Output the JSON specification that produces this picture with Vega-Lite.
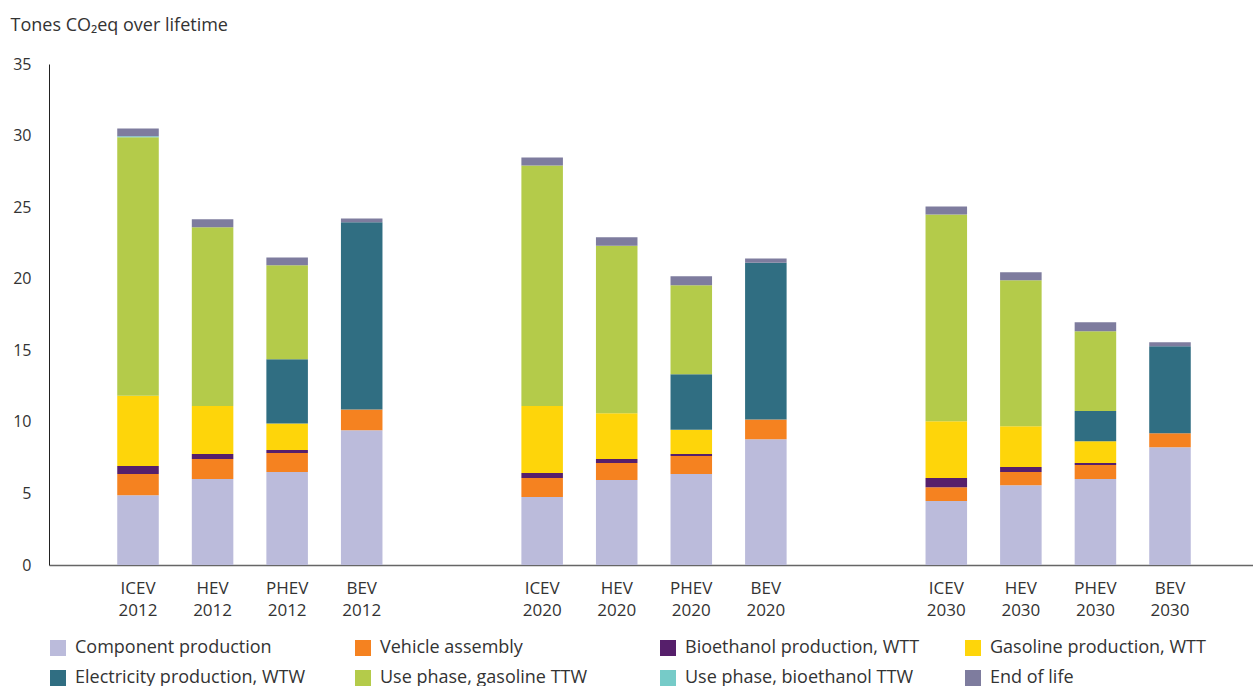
{
  "$schema": "https://vega.github.io/schema/vega-lite/v6.json",
  "width": 1210,
  "height": 501,
  "autosize": {"type": "none"},
  "padding": {"left": 49, "top": 64, "right": 0, "bottom": 121},
  "config": {
    "font": "Open Sans",
    "view": {"stroke": null},
    "axis": {"labelColor": "#333333", "titleColor": "#333333"}
  },
  "datasets": {
    "sources": [
      {"source": "Component production", "rank": 1},
      {"source": "Vehicle assembly", "rank": 2},
      {"source": "Bioethanol production, WTT", "rank": 3},
      {"source": "Gasoline production, WTT", "rank": 4},
      {"source": "Electricity production, WTW", "rank": 5},
      {"source": "Use phase, gasoline TTW", "rank": 6},
      {"source": "Use phase, bioethanol TTW", "rank": 7},
      {"source": "End of life", "rank": 8}
    ],
    "emissions": [
      {"year": "2012", "vehicle": "ICEV", "source": "Component production", "value": 4.88},
      {"year": "2012", "vehicle": "ICEV", "source": "Vehicle assembly", "value": 1.47},
      {"year": "2012", "vehicle": "ICEV", "source": "Bioethanol production, WTT", "value": 0.56},
      {"year": "2012", "vehicle": "ICEV", "source": "Gasoline production, WTT", "value": 4.91},
      {"year": "2012", "vehicle": "ICEV", "source": "Use phase, gasoline TTW", "value": 18.07},
      {"year": "2012", "vehicle": "ICEV", "source": "Use phase, bioethanol TTW", "value": 0.07},
      {"year": "2012", "vehicle": "ICEV", "source": "End of life", "value": 0.54},
      {"year": "2012", "vehicle": "HEV", "source": "Component production", "value": 6.0},
      {"year": "2012", "vehicle": "HEV", "source": "Vehicle assembly", "value": 1.4},
      {"year": "2012", "vehicle": "HEV", "source": "Bioethanol production, WTT", "value": 0.35},
      {"year": "2012", "vehicle": "HEV", "source": "Gasoline production, WTT", "value": 3.35},
      {"year": "2012", "vehicle": "HEV", "source": "Use phase, gasoline TTW", "value": 12.49},
      {"year": "2012", "vehicle": "HEV", "source": "End of life", "value": 0.56},
      {"year": "2012", "vehicle": "PHEV", "source": "Component production", "value": 6.49},
      {"year": "2012", "vehicle": "PHEV", "source": "Vehicle assembly", "value": 1.33},
      {"year": "2012", "vehicle": "PHEV", "source": "Bioethanol production, WTT", "value": 0.21},
      {"year": "2012", "vehicle": "PHEV", "source": "Gasoline production, WTT", "value": 1.86},
      {"year": "2012", "vehicle": "PHEV", "source": "Electricity production, WTW", "value": 4.49},
      {"year": "2012", "vehicle": "PHEV", "source": "Use phase, gasoline TTW", "value": 6.56},
      {"year": "2012", "vehicle": "PHEV", "source": "End of life", "value": 0.55},
      {"year": "2012", "vehicle": "BEV", "source": "Component production", "value": 9.42},
      {"year": "2012", "vehicle": "BEV", "source": "Vehicle assembly", "value": 1.44},
      {"year": "2012", "vehicle": "BEV", "source": "Electricity production, WTW", "value": 13.08},
      {"year": "2012", "vehicle": "BEV", "source": "End of life", "value": 0.27},
      {"year": "2020", "vehicle": "ICEV", "source": "Component production", "value": 4.75},
      {"year": "2020", "vehicle": "ICEV", "source": "Vehicle assembly", "value": 1.32},
      {"year": "2020", "vehicle": "ICEV", "source": "Bioethanol production, WTT", "value": 0.35},
      {"year": "2020", "vehicle": "ICEV", "source": "Gasoline production, WTT", "value": 4.68},
      {"year": "2020", "vehicle": "ICEV", "source": "Use phase, gasoline TTW", "value": 16.81},
      {"year": "2020", "vehicle": "ICEV", "source": "End of life", "value": 0.56},
      {"year": "2020", "vehicle": "HEV", "source": "Component production", "value": 5.93},
      {"year": "2020", "vehicle": "HEV", "source": "Vehicle assembly", "value": 1.19},
      {"year": "2020", "vehicle": "HEV", "source": "Bioethanol production, WTT", "value": 0.28},
      {"year": "2020", "vehicle": "HEV", "source": "Gasoline production, WTT", "value": 3.21},
      {"year": "2020", "vehicle": "HEV", "source": "Use phase, gasoline TTW", "value": 11.7},
      {"year": "2020", "vehicle": "HEV", "source": "End of life", "value": 0.58},
      {"year": "2020", "vehicle": "PHEV", "source": "Component production", "value": 6.35},
      {"year": "2020", "vehicle": "PHEV", "source": "Vehicle assembly", "value": 1.26},
      {"year": "2020", "vehicle": "PHEV", "source": "Bioethanol production, WTT", "value": 0.14},
      {"year": "2020", "vehicle": "PHEV", "source": "Gasoline production, WTT", "value": 1.69},
      {"year": "2020", "vehicle": "PHEV", "source": "Electricity production, WTW", "value": 3.89},
      {"year": "2020", "vehicle": "PHEV", "source": "Use phase, gasoline TTW", "value": 6.21},
      {"year": "2020", "vehicle": "PHEV", "source": "End of life", "value": 0.63},
      {"year": "2020", "vehicle": "BEV", "source": "Component production", "value": 8.79},
      {"year": "2020", "vehicle": "BEV", "source": "Vehicle assembly", "value": 1.38},
      {"year": "2020", "vehicle": "BEV", "source": "Electricity production, WTW", "value": 10.95},
      {"year": "2020", "vehicle": "BEV", "source": "End of life", "value": 0.3},
      {"year": "2030", "vehicle": "ICEV", "source": "Component production", "value": 4.47},
      {"year": "2030", "vehicle": "ICEV", "source": "Vehicle assembly", "value": 0.97},
      {"year": "2030", "vehicle": "ICEV", "source": "Bioethanol production, WTT", "value": 0.63},
      {"year": "2030", "vehicle": "ICEV", "source": "Gasoline production, WTT", "value": 3.98},
      {"year": "2030", "vehicle": "ICEV", "source": "Use phase, gasoline TTW", "value": 14.44},
      {"year": "2030", "vehicle": "ICEV", "source": "End of life", "value": 0.56},
      {"year": "2030", "vehicle": "HEV", "source": "Component production", "value": 5.58},
      {"year": "2030", "vehicle": "HEV", "source": "Vehicle assembly", "value": 0.91},
      {"year": "2030", "vehicle": "HEV", "source": "Bioethanol production, WTT", "value": 0.35},
      {"year": "2030", "vehicle": "HEV", "source": "Gasoline production, WTT", "value": 2.86},
      {"year": "2030", "vehicle": "HEV", "source": "Use phase, gasoline TTW", "value": 10.19},
      {"year": "2030", "vehicle": "HEV", "source": "End of life", "value": 0.56},
      {"year": "2030", "vehicle": "PHEV", "source": "Component production", "value": 6.0},
      {"year": "2030", "vehicle": "PHEV", "source": "Vehicle assembly", "value": 0.98},
      {"year": "2030", "vehicle": "PHEV", "source": "Bioethanol production, WTT", "value": 0.14},
      {"year": "2030", "vehicle": "PHEV", "source": "Gasoline production, WTT", "value": 1.53},
      {"year": "2030", "vehicle": "PHEV", "source": "Electricity production, WTW", "value": 2.1},
      {"year": "2030", "vehicle": "PHEV", "source": "Use phase, gasoline TTW", "value": 5.58},
      {"year": "2030", "vehicle": "PHEV", "source": "End of life", "value": 0.63},
      {"year": "2030", "vehicle": "BEV", "source": "Component production", "value": 8.23},
      {"year": "2030", "vehicle": "BEV", "source": "Vehicle assembly", "value": 0.98},
      {"year": "2030", "vehicle": "BEV", "source": "Electricity production, WTW", "value": 6.07},
      {"year": "2030", "vehicle": "BEV", "source": "End of life", "value": 0.28}
    ]
  },
  "data": {"name": "emissions"},
  "layer": [
    {
      "transform": [
        {"lookup": "source", "from": {"data": {"name": "sources"}, "key": "source", "fields": ["rank"]}}
      ],
      "mark": {"type": "bar"},
      "encoding": {
        "x": {
          "field": "year", "type": "nominal",
          "scale": {"paddingInner": 0.262, "paddingOuter": 0.128},
          "axis": {"labels": false, "ticks": false, "title": null, "domainColor": "#666666", "domainWidth": 1.5}
        },
        "xOffset": {
          "field": "vehicle", "type": "nominal",
          "sort": ["ICEV", "HEV", "PHEV", "BEV"],
          "scale": {"paddingInner": 0.443, "paddingOuter": 0.2215}
        },
        "y": {
          "field": "value", "type": "quantitative", "stack": "zero",
          "scale": {"domain": [0, 35], "nice": false},
          "axis": {
            "title": "Tones CO₂eq over lifetime",
            "titleAngle": 0, "titleAlign": "left", "titleAnchor": null,
            "titleX": -39, "titleY": -34, "titleBaseline": "alphabetic",
            "titleFontSize": 18, "titleFontWeight": "normal",
            "labelFontSize": 16, "labelPadding": 18,
            "ticks": false, "grid": false,
            "domainColor": "#222222", "domainWidth": 1,
            "values": [0, 5, 10, 15, 20, 25, 30, 35]
          }
        },
        "order": {"field": "rank", "type": "quantitative", "sort": "ascending"},
        "color": {
          "field": "source", "type": "nominal",
          "sort": ["Component production", "Vehicle assembly", "Bioethanol production, WTT", "Gasoline production, WTT", "Electricity production, WTW", "Use phase, gasoline TTW", "Use phase, bioethanol TTW", "End of life"],
          "scale": {
            "domain": ["Component production", "Vehicle assembly", "Bioethanol production, WTT", "Gasoline production, WTT", "Electricity production, WTW", "Use phase, gasoline TTW", "Use phase, bioethanol TTW", "End of life"],
            "range": ["#bbbbdb", "#f58220", "#561f6b", "#fed50a", "#306e82", "#b4cb4a", "#76cbc8", "#7e7c9e"]
          },
          "legend": {
            "title": null, "orient": "none", "legendX": 0, "legendY": 575,
            "direction": "horizontal",
            "columns": 4, "gridAlign": "all", "columnPadding": 44, "rowPadding": 12,
            "symbolType": "square", "symbolSize": 256, "symbolStrokeWidth": 0,
            "labelFontSize": 18, "labelColor": "#333333", "labelOffset": 8, "labelLimit": 400
          }
        }
      }
    },
    {
      "transform": [{"aggregate": [{"op": "count", "as": "n"}], "groupby": ["year", "vehicle"]}],
      "mark": {"type": "text", "baseline": "alphabetic", "dy": 29, "fontSize": 17, "color": "#333333"},
      "encoding": {
        "x": {"field": "year", "type": "nominal"},
        "xOffset": {"field": "vehicle", "type": "nominal", "sort": ["ICEV", "HEV", "PHEV", "BEV"]},
        "y": {"datum": 0},
        "text": {"field": "vehicle", "type": "nominal"}
      }
    },
    {
      "transform": [{"aggregate": [{"op": "count", "as": "n"}], "groupby": ["year", "vehicle"]}],
      "mark": {"type": "text", "baseline": "alphabetic", "dy": 51, "fontSize": 17, "color": "#333333"},
      "encoding": {
        "x": {"field": "year", "type": "nominal"},
        "xOffset": {"field": "vehicle", "type": "nominal", "sort": ["ICEV", "HEV", "PHEV", "BEV"]},
        "y": {"datum": 0},
        "text": {"field": "year", "type": "nominal"}
      }
    }
  ]
}
